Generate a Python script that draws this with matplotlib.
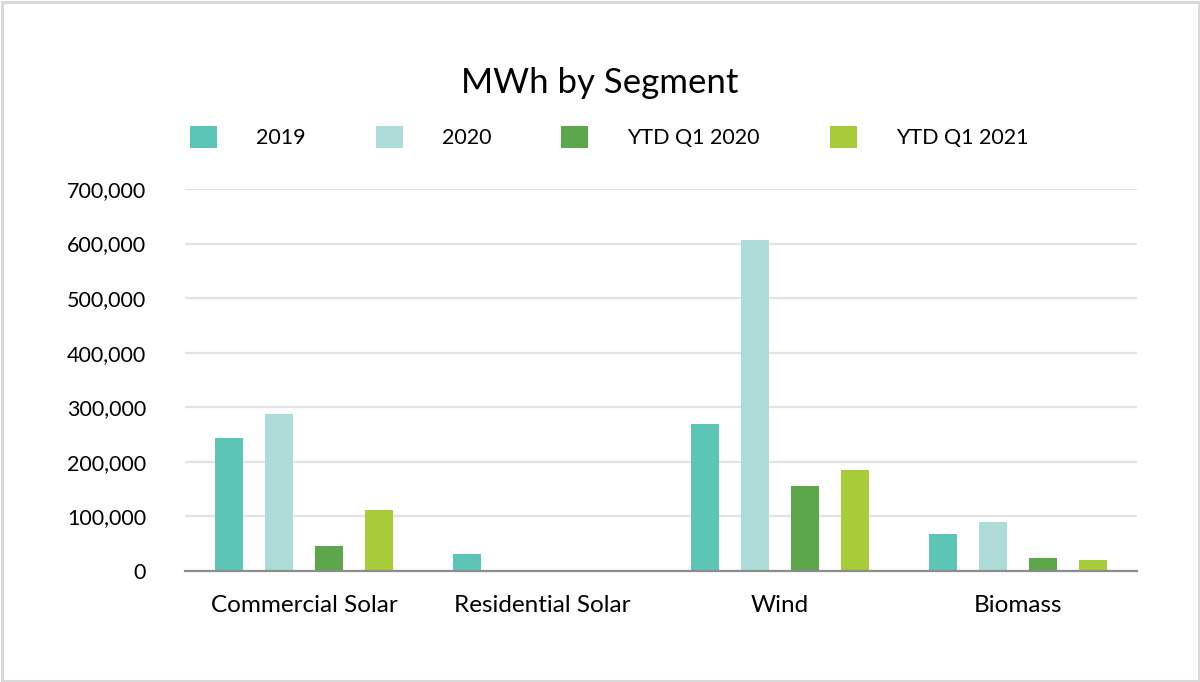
import matplotlib
matplotlib.use("Agg")
import matplotlib.pyplot as plt
import numpy as np
from matplotlib.patches import Rectangle
from matplotlib.ticker import FuncFormatter, MultipleLocator

categories = ["Commercial Solar", "Residential Solar", "Wind", "Biomass"]
series_names = ["2019", "2020", "YTD Q1 2020", "YTD Q1 2021"]
values_2019 = [244000, 31000, 269000, 68000]
values_2020 = [288000, 0, 606000, 90000]
values_ytd_q1_2020 = [46000, 0, 156000, 24000]
values_ytd_q1_2021 = [112000, 0, 185000, 20000]
series_values = [values_2019, values_2020, values_ytd_q1_2020, values_ytd_q1_2021]
colors = ["#5cc5b5", "#addcd8", "#5ca64b", "#a8cb3a"]
title = "MWh by Segment"

plt.rcParams["font.family"] = ["Lato", "DejaVu Sans"]

W, H = 1200, 682
fig = plt.figure(figsize=(W / 100, H / 100), dpi=100)
fig.patch.set_facecolor("white")
fig.patches.append(Rectangle((1.5 / W, 1.5 / H), 1 - 3 / W, 1 - 3 / H, transform=fig.transFigure,
                             fill=False, edgecolor="#d9d9d9", linewidth=2.2))

ax = fig.add_axes([185 / W, (H - 571) / H, (1137 - 185) / W, (571 - 189) / H])

x = np.arange(len(categories))
slot = 50 / 238
width = 28 / 238
handles = []
for i, (name, vals, c) in enumerate(zip(series_names, series_values, colors)):
    b = ax.bar(x + (i - 1.5) * slot, vals, width=width, color=c, label=name, zorder=3)
    handles.append(b)

ax.set_xlim(-0.5, len(categories) - 0.5)
ax.set_ylim(0, 700000)
ax.yaxis.set_major_locator(MultipleLocator(100000))
ax.yaxis.set_major_formatter(FuncFormatter(lambda v, p: f"{int(v):,}"))
ax.grid(axis="y", color="#e3e3e3", linewidth=1.6, zorder=0)
ax.set_axisbelow(True)
for s in ["top", "right", "left"]:
    ax.spines[s].set_visible(False)
ax.spines["bottom"].set_color("#8c8c8c")
ax.spines["bottom"].set_linewidth(1.6)
ax.spines["bottom"].set_zorder(4)
ax.set_xticks(x)
ax.set_xticklabels(categories)
ax.tick_params(axis="both", length=0, colors="#000000")
ax.tick_params(axis="y", pad=28, labelsize=15.5)
ax.tick_params(axis="x", pad=17, labelsize=17.5)

fig.text(0.5, 1 - 83 / H, title, ha="center", va="center", fontsize=25, color="#000000")

fs = 15.5
fs_px = fs * 100 / 72
leg = fig.legend(handles=handles, labels=series_names, loc="center left",
                 bbox_to_anchor=(190 / W, 1 - 137 / H), ncol=4, frameon=False,
                 fontsize=fs, handlelength=27 / fs_px, handleheight=26 / fs_px,
                 handletextpad=39 / fs_px, columnspacing=70 / fs_px, borderpad=0,
                 borderaxespad=0)

fig.savefig("out.png", dpi=100, facecolor="white")
